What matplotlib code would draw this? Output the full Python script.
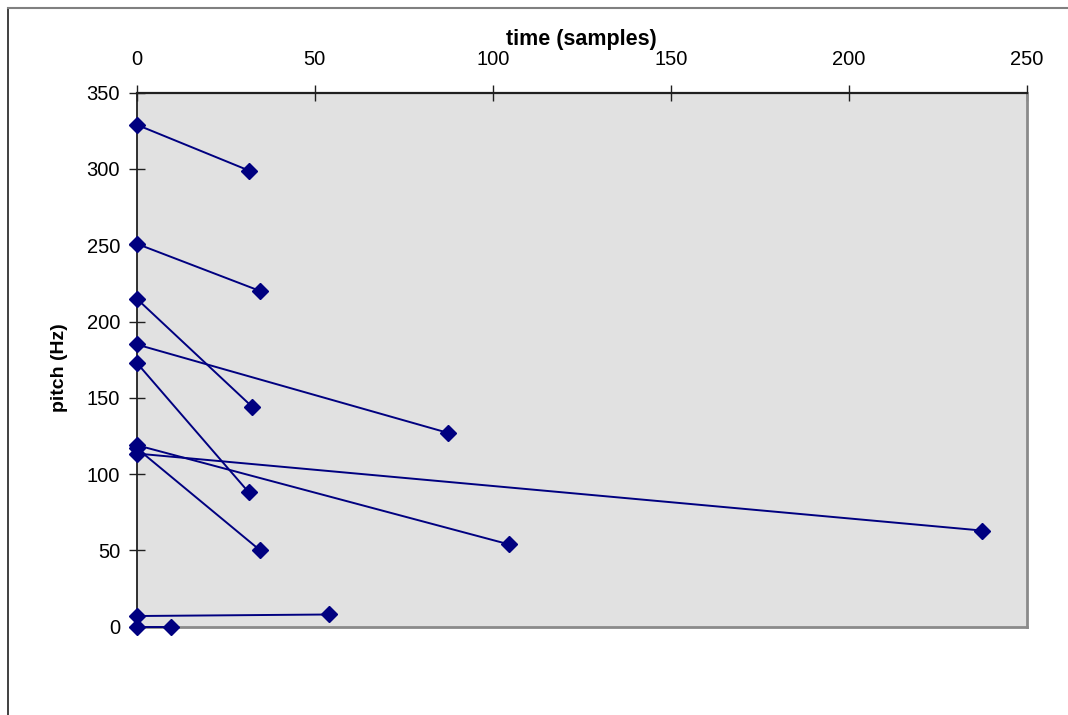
import matplotlib
matplotlib.use("Agg")
import matplotlib.pyplot as plt
from matplotlib.lines import Line2D

plt.rcParams['font.family'] = ['Liberation Sans', 'DejaVu Sans']

# Each series: start time, end time, start pitch, end pitch
start_time = [0, 0, 0, 0, 0, 0, 0, 0, 0, 0]
end_time = [31.5, 34.7, 32.5, 87.5, 31.5, 104.5, 34.7, 237.5, 54, 9.5]
start_pitch = [329, 251, 215, 185, 173, 119, 117, 113.5, 7, 0]
end_pitch = [299, 220, 144, 127, 88, 54, 50, 63, 8, 0]

x_ticks = [0, 50, 100, 150, 200, 250]
y_ticks = [0, 50, 100, 150, 200, 250, 300, 350]

W, H = 1068, 715
fig = plt.figure(figsize=(W / 100, H / 100), dpi=100)
fig.patch.set_facecolor('white')

# outer chart border (partially cropped)
fig.add_artist(Line2D([8 / W, 8 / W], [0, 1 - 8 / H], color='#202020', lw=1.2, transform=fig.transFigure))
fig.add_artist(Line2D([8 / W, 1], [1 - 8 / H, 1 - 8 / H], color='#808080', lw=1.5, transform=fig.transFigure))

left, right, top, bottom = 136.7, 1026.7, 92.7, 626.7
ax = fig.add_axes([left / W, 1 - bottom / H, (right - left) / W, (bottom - top) / H])
ax.set_facecolor('#E1E1E1')

color = '#000080'
for x0, x1, y0, y1 in zip(start_time, end_time, start_pitch, end_pitch):
    ax.plot([x0, x1], [y0, y1], color=color, lw=1.4, marker='D', ms=8.5,
            markerfacecolor=color, markeredgecolor=color, clip_on=False, zorder=3)

ax.set_xlim(0, 250)
ax.set_ylim(0, 350)
ax.set_xticks(x_ticks)
ax.set_yticks(y_ticks)
ax.xaxis.tick_top()
ax.tick_params(axis='x', direction='inout', length=12, width=1, pad=11, labelsize=14.5, color='#202020')
ax.tick_params(axis='y', direction='inout', length=12, width=1, pad=6, labelsize=14.5, color='#202020')
ax.tick_params(axis='x', which='both', bottom=False)

ax.spines['top'].set_color('#202020')
ax.spines['top'].set_linewidth(1.6)
ax.spines['left'].set_color('#202020')
ax.spines['left'].set_linewidth(1.3)
ax.spines['right'].set_color('#8a8a8a')
ax.spines['right'].set_linewidth(2)
ax.spines['bottom'].set_color('#8a8a8a')
ax.spines['bottom'].set_linewidth(2)

fig.text(581 / W, 1 - 40 / H, 'time (samples)', ha='center', va='center',
         fontsize=15.5, fontweight='bold')
fig.text(59 / W, 1 - 368 / H, 'pitch (Hz)', ha='center', va='center',
         fontsize=14, fontweight='bold', rotation=90)

fig.savefig('out.png', dpi=100)
